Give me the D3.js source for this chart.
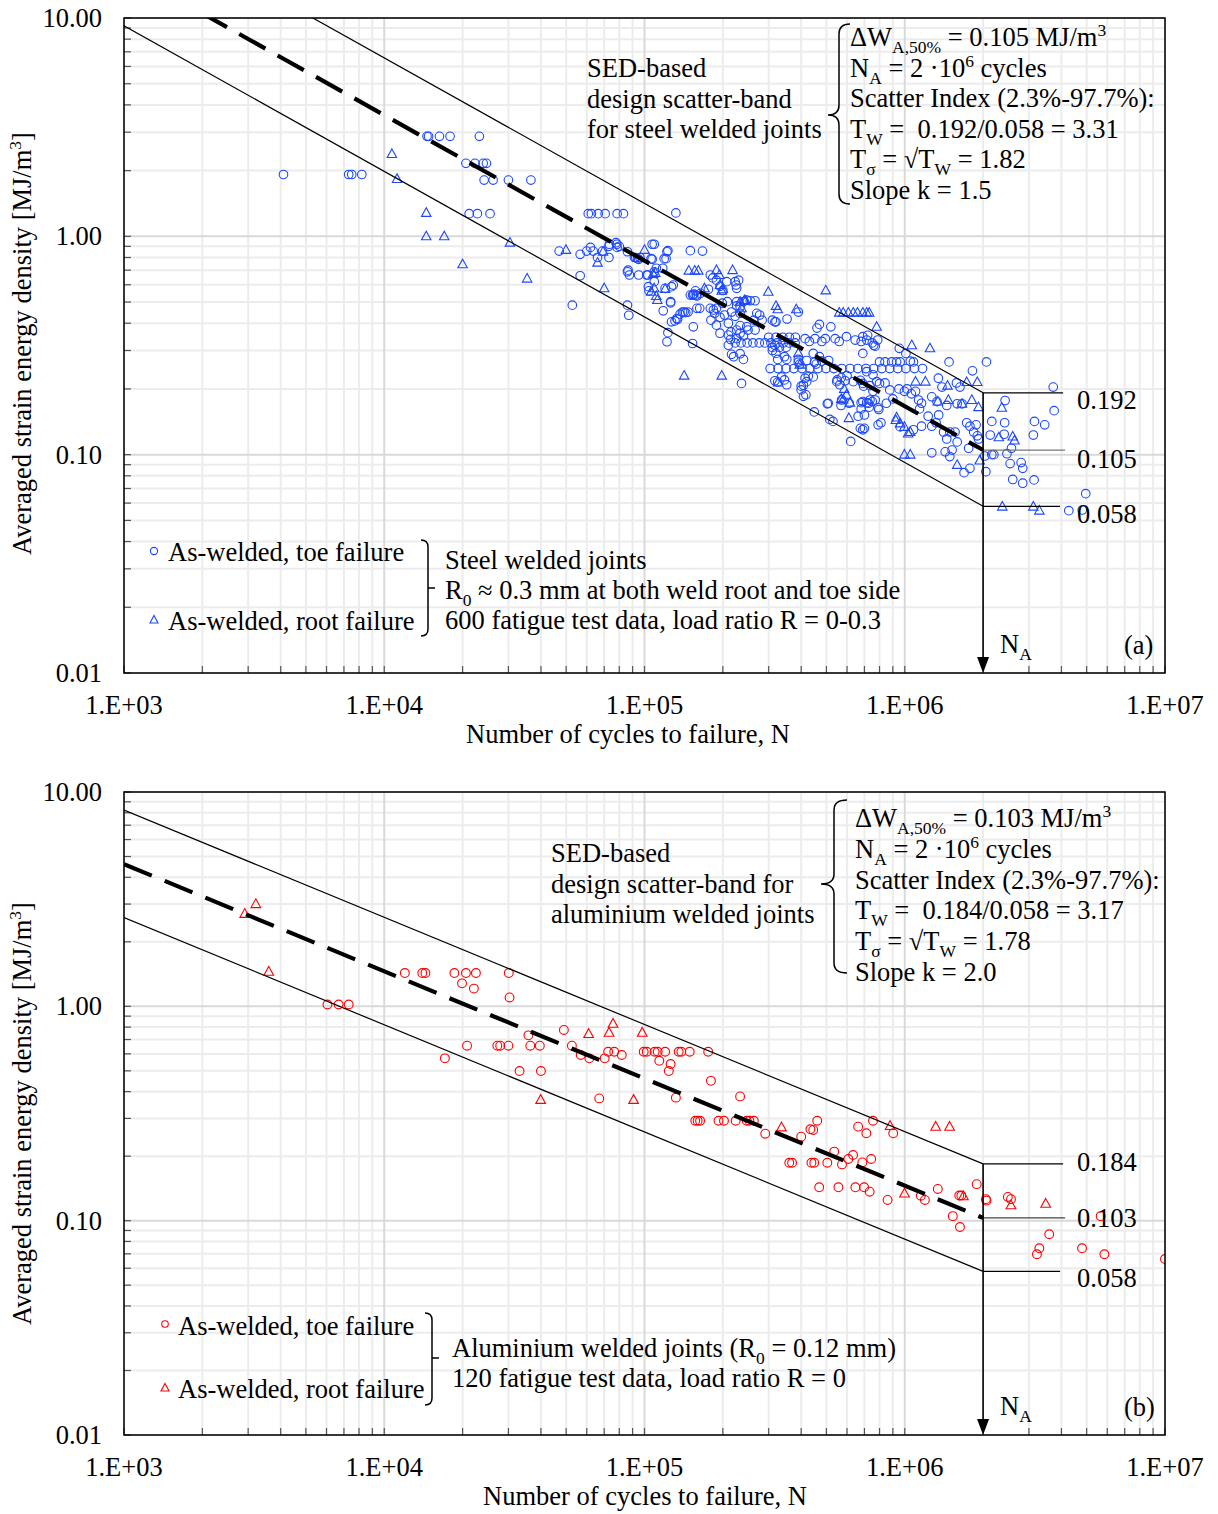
<!DOCTYPE html>
<html><head><meta charset="utf-8">
<script src="https://d3js.org/d3.v7.min.js"></script>
<style>
body{margin:0;background:#fff}
svg{display:block}
text{font-family:"Liberation Serif","Times New Roman",serif;fill:#000;white-space:pre}
</style>
</head><body>
<svg id="c" width="1218" height="1514"></svg>
<script>
// ---------------- DATA ----------------
const xTickLabels = ["1.E+03","1.E+04","1.E+05","1.E+06","1.E+07"];
const xTickValues = [1e3,1e4,1e5,1e6,1e7];
const yTickLabels = ["0.01","0.10","1.00","10.00"];
const yTickValues = [0.01,0.1,1,10];
const NA = 2e6;
// scatter band: [lower 97.7%, median 50%, upper 2.3%] at NA, and slope k
const steelBand = [0.058, 0.105, 0.192];
const steelK = 1.5;
const aluBand = [0.058, 0.103, 0.184];
const aluK = 2.0;

// Steel, as-welded toe failure [N, W]
const steelToe = [
[4.1e3,1.92],[7.3e3,1.92],[7.5e3,1.92],[8.2e3,1.92],
[1.46e4,2.87],[1.48e4,2.87],[1.63e4,2.87],[1.79e4,2.87],[2.32e4,2.87],
[2.06e4,2.16],[2.23e4,2.16],[2.4e4,2.16],[2.47e4,2.16],
[2.42e4,1.81],[2.62e4,1.81],[3.0e4,1.81],[3.66e4,1.81],
[2.12e4,1.27],[2.28e4,1.27],[2.55e4,1.27],
[6.08e4,1.27],[6.25e4,1.27],[6.64e4,1.27],[7.06e4,1.27],[7.85e4,1.27],[8.3e4,1.27],
[1.32e5,1.28],
[5.28e4,0.484],[5.66e4,0.66],[4.7e4,0.856],[5.66e4,0.827],
[6.0e4,0.856],[6.2e4,0.89],[6.35e4,0.856],[6.9e4,0.856],[7.3e4,0.90],[7.3e4,0.80],[7.77e4,0.935],[7.85e4,0.89],
[6.6e4,0.80],[8.6e4,0.688],[8.75e4,0.665],[9.5e4,0.665],[1.03e5,0.665],
[8.6e4,0.484],[8.7e4,0.435],
[9.25e4,0.80],[9.5e4,0.785],[1.07e5,0.785],[1.07e5,0.92],[1.09e5,0.92],
[1.035e5,0.588],[1.04e5,0.563],
[7.33e4,0.92],[7.83e4,0.92],[8.0e4,0.90],[8.6e4,0.85],[9.15e4,0.80],[9.4e4,0.79],[9.6e4,0.80],
[1.22e5,0.85],[1.21e5,0.79],[1.5e5,0.86],
[8.65e4,0.70],[1.09e5,0.688],[1.11e5,0.714],[1.175e5,0.714],[1.09e5,0.62],
[1.27e5,0.588],[1.29e5,0.598],[1.26e5,0.496],
[1.57e5,0.563],[1.55e5,0.544],[1.58e5,0.538],[1.5e5,0.538],[1.53e5,0.538],
[1.18e5,0.456],[1.42e5,0.45],[1.44e5,0.447],[1.4e5,0.45],[1.34e5,0.417],[1.31e5,0.41],[1.27e5,0.406],[1.59e5,0.468],
[1.23e5,0.362],[1.22e5,0.329],[1.53e5,0.323],
[1.23e5,0.86],[1.67e5,0.856],[1.06e5,0.79],[1.19e5,0.79],
[1.79e5,0.665],[1.83e5,0.645],[1.2e5,0.578],[1.02e5,0.665],
[1.26e5,0.502],[1.54e5,0.385],[2.36e5,0.212],
[1.95e5,0.59],[2.0e5,0.565],[1.76e5,0.572],[1.54e5,0.54],[1.59e5,0.533],[1.64e5,0.548],
[1.63e5,0.468],[1.79e5,0.468],[1.84e5,0.46],[1.89e5,0.468],[1.99e5,0.494],[2.08e5,0.502],[2.26e5,0.502],[2.33e5,0.476],[2.4e5,0.502],[2.47e5,0.51],[2.55e5,0.507],[2.66e5,0.507],
[3.9e5,0.45],[3.17e5,0.406],[3.53e5,0.418],[4.7e5,0.395],[4.6e5,0.38],[5.2e5,0.385],
[5.97e5,0.347],[6.45e5,0.335],[6.9e5,0.347],[7.2e5,0.352],[7.87e5,0.335],
[2.23e5,0.325],[2.35e5,0.325],[2.48e5,0.325],[2.61e5,0.325],[2.76e5,0.325],[2.9e5,0.325],[3.06e5,0.325],[3.23e5,0.325],[3.41e5,0.325],[3.59e5,0.325],[3.79e5,0.325],
[3.0e5,0.345],[3.2e5,0.345],[3.4e5,0.345],[3.6e5,0.345],[3.8e5,0.345],[3.1e5,0.31],[3.3e5,0.31],[3.5e5,0.31],
[4.14e5,0.34],[4.52e5,0.34],[4.95e5,0.34],[5.4e5,0.34],[4.3e5,0.33],[4.8e5,0.33],[5.6e5,0.33],
[3.04e5,0.248],[3.26e5,0.248],[3.5e5,0.248],[3.75e5,0.248],[4.03e5,0.248],[4.32e5,0.248],[4.64e5,0.248],[4.98e5,0.248],[5.34e5,0.248],[5.73e5,0.248],
[6.16e5,0.248],[6.6e5,0.248],[7.09e5,0.248],[7.6e5,0.248],[8.16e5,0.248],[8.76e5,0.248],[9.4e5,0.248],[1.01e6,0.248],[1.09e6,0.248],[1.17e6,0.248],
[2.1e5,0.317],[2.2e5,0.281],[2.33e5,0.29],[2.16e5,0.288],[2.4e5,0.273],
[3.17e5,0.317],[3.2e5,0.291],[3.1e5,0.30],[3.25e5,0.273],
[3.45e5,0.281],[3.52e5,0.273],[3.9e5,0.273],[3.95e5,0.26],
[4.45e5,0.291],[4.7e5,0.281],[4.57e5,0.26],
[1.86e5,0.444],[1.95e5,0.426],[2.03e5,0.436],[2.16e5,0.45],[2.23e5,0.43],[2.33e5,0.444],
[2.26e5,0.372],[2.33e5,0.36],[2.1e5,0.353],[2.14e5,0.337],[2.26e5,0.34],
[1.89e5,0.392],[1.8e5,0.413],[1.95e5,0.36],
[2.7e5,0.444],[2.77e5,0.436],[2.63e5,0.413],[2.83e5,0.413],
[2.47e5,0.385],[2.5e5,0.372],[2.66e5,0.372],[3.1e5,0.413],[3.2e5,0.406],
[1.89e5,0.63],[2.07e5,0.62],[2.23e5,0.62],[2.3e5,0.63],[2.26e5,0.578],[2.25e5,0.598],
[1.37e5,0.44],[1.33e5,0.42],[1.47e5,0.45],[2.26e5,0.48],[2.1e5,0.40],[2.33e5,0.39],[2.15e5,0.365],[2.4e5,0.35],
[3.45e5,0.22],[3.52e5,0.209],[4.14e5,0.224],[4.08e5,0.208],[4.0e5,0.198],[4.17e5,0.188],[4.08e5,0.185],[4.26e5,0.229],
[5.04e5,0.171],[4.49e5,0.157],[5.15e5,0.145],[5.3e5,0.142],[5.69e5,0.168],[6.62e5,0.15],[6.9e5,0.13],[6.2e5,0.115],
[6.8e5,0.173],[7.14e5,0.173],[7.5e5,0.175],[7.95e5,0.161],[8.1e5,0.14],[7.9e5,0.137],[8.4e5,0.213],
[5.5e5,0.22],[5.7e5,0.225],[5.9e5,0.218],[6.0e5,0.23],
[3.17e5,0.218],[3.25e5,0.215],[3.36e5,0.227],[4.0e5,0.206],[4.2e5,0.216],[4.45e5,0.227],[5.08e5,0.172],
[5.63e5,0.209],[5.48e5,0.216],[5.72e5,0.178],[6.12e5,0.172],[6.34e5,0.216],[6.75e5,0.219],[6.95e5,0.206],[7.35e5,0.178],[7.55e5,0.195],[7.3e5,0.165],
[3.9e5,0.265],[4.2e5,0.27],[4.5e5,0.265],[4.8e5,0.268],[5.1e5,0.27],
[6.8e5,0.33],[7.6e5,0.317],[6.9e5,0.291],[9.53e5,0.307],[1.01e6,0.291],[1.05e6,0.268],[1.08e6,0.266],[1.48e6,0.266],[2.06e6,0.266],[1.82e6,0.242],
[1.346e6,0.224],[1.39e6,0.204],[1.58e6,0.213],[1.63e6,0.204],
[1.27e6,0.184],[1.33e6,0.175],[1.45e6,0.168],[1.59e6,0.171],[1.66e6,0.171],
[9.6e5,0.134],[1.08e6,0.13],
[1.16e6,0.135],[1.27e6,0.135],[1.35e6,0.152],[1.32e6,0.14],[1.41e6,0.127],[1.45e6,0.118],[1.49e6,0.127],[1.56e6,0.127],[1.59e6,0.1144],
[1.73e6,0.14],[1.78e6,0.135],[1.88e6,0.137],[1.84e6,0.127],[1.9e6,0.122],[1.76e6,0.107],[1.92e6,0.118],
[1.27e6,0.102],[1.43e6,0.103],[1.52e6,0.105],[1.49e6,0.098],[1.69e6,0.0827],[1.78e6,0.0866],
[2.03e6,0.0986],[2.05e6,0.0836],[2.16e6,0.1],[2.2e6,0.1],
[3.72e6,0.204],[3.75e6,0.159],[2.43e6,0.177],[2.16e6,0.142],[2.42e6,0.14],[3.15e6,0.142],[3.45e6,0.137],
[2.13e6,0.123],[2.41e6,0.124],[3.12e6,0.123],[2.57e6,0.107],[2.47e6,0.101],
[2.54e6,0.091],[2.8e6,0.092],[2.84e6,0.0866],[2.6e6,0.077],[2.84e6,0.074],[3.14e6,0.0766],
[4.27e6,0.0554],[4.81e6,0.0558],[4.96e6,0.0663],
[7.14e5,0.335],[7.5e5,0.325],[7.7e5,0.314],
[8.0e5,0.266],[8.4e5,0.266],[8.9e5,0.266],[9.3e5,0.266],[9.6e5,0.266],
[7.14e5,0.24],[7.55e5,0.232],[7.8e5,0.216],[7.35e5,0.207],[6.9e5,0.212],[8.0e5,0.212],
[8.76e5,0.198],[9.5e5,0.2],[9.97e5,0.195],[1.02e6,0.2],[1.06e6,0.19],[1.1e6,0.195],
[6.9e5,0.175],[7.25e5,0.172],[7.7e5,0.178],[7.9e5,0.164],[8.5e5,0.172],[9.0e5,0.18],
[1.14e6,0.162],[1.23e6,0.15],[1.16e6,0.172],[1.13e6,0.178],
[6.8e5,0.162],[7.0e5,0.152],[6.75e5,0.132],[7.0e5,0.132]
];
// Steel, as-welded root failure [N, W]
const steelRoot = [
[1.07e4,2.38],[1.12e4,1.83],[1.45e4,1.28],[1.45e4,1.0],[1.7e4,1.0],[2.0e4,0.744],[3.04e4,0.935],[3.54e4,0.64],
[4.99e4,0.866],[6.6e4,0.757],[7.0e4,0.578],[1.0e5,0.866],
[1.06e5,0.557],[1.09e5,0.578],[1.11e5,0.533],[1.12e5,0.511],[1.08e5,0.672],[1.10e5,0.68],[6.93e4,0.85],
[1.48e5,0.696],[1.56e5,0.696],[1.61e5,0.696],[1.89e5,0.70],[2.18e5,0.70],[1.94e5,0.665],[1.2e5,0.574],
[1.42e5,0.23],[1.98e5,0.23],
[1.7e5,0.578],[1.95e5,0.598],[1.98e5,0.563],[2.0e5,0.572],[2.33e5,0.502],[2.36e5,0.468],[2.45e5,0.507],[2.42e5,0.51],
[2.99e5,0.557],[4.97e5,0.565],[3.2e5,0.48],[3.25e5,0.463],[3.83e5,0.463],
[5.6e5,0.447],[5.8e5,0.447],[6.07e5,0.447],[6.34e5,0.447],[6.58e5,0.447],[6.9e5,0.447],[7.14e5,0.447],[7.3e5,0.447],
[7.8e5,0.385],[3.9e5,0.291],[3.95e5,0.258],[3.26e5,0.214],
[5.8e5,0.179],[5.97e5,0.188],[6.16e5,0.173],[6.1e5,0.147],[5.7e5,0.18],[5.85e5,0.2],
[1.064e6,0.317],[1.25e6,0.307],[1.73e6,0.215],[1.9e6,0.215],[1.46e6,0.207],[1.1e6,0.216],[1.2e6,0.216],
[1.34e6,0.175],[1.47e6,0.178],[1.66e6,0.171],[1.81e6,0.178],[1.92e6,0.165],
[9.24e5,0.144],[9.97e5,0.134],[1.03e6,0.125],[9.97e5,0.1],[1.05e6,0.1],[1.59e6,0.0897],[1.94e6,0.094],
[9.3e5,0.148],[9.6e5,0.139],[1.05e6,0.127],
[2.36e6,0.164],[2.3e6,0.12],[2.6e6,0.121],[2.64e6,0.116],
[2.37e6,0.0578],[3.12e6,0.0578],[3.29e6,0.0554]
];
// Aluminium, as-welded toe failure [N, W]
const aluToe = [
[6.05e3,1.02],[6.68e3,1.02],[7.3e3,1.02],
[1.2e4,1.43],[1.4e4,1.43],[1.44e4,1.43],[1.86e4,1.43],[2.06e4,1.43],[2.25e4,1.43],[3.01e4,1.43],
[1.99e4,1.28],[2.21e4,1.21],[3.03e4,1.10],
[1.71e4,0.572],[2.08e4,0.655],[2.72e4,0.655],[2.79e4,0.655],[3.0e4,0.655],
[3.31e4,0.499],[4.0e4,0.499],[3.58e4,0.732],[3.64e4,0.655],[3.96e4,0.655],
[4.9e4,0.776],[5.26e4,0.655],[5.69e4,0.593],[6.14e4,0.572],[6.7e4,0.372],[7.03e4,0.572],[7.25e4,0.614],[7.65e4,0.614],[8.18e4,0.593],
[9.93e4,0.614],[1.02e5,0.614],[1.094e5,0.614],[1.124e5,0.614],[1.2e5,0.614],[1.353e5,0.614],[1.385e5,0.614],[1.492e5,0.614],[1.757e5,0.614],
[1.14e5,0.557],[1.26e5,0.538],[1.24e5,0.499],[1.8e5,0.449],[1.32e5,0.375],[2.33e5,0.38],
[1.567e5,0.2926],[1.6e5,0.2926],[1.635e5,0.2926],[1.925e5,0.2926],[2.02e5,0.2926],[2.24e5,0.2926],[2.47e5,0.2926],[2.53e5,0.2926],[2.63e5,0.2926],
[2.91e5,0.2546],[4.0e5,0.2465],[4.34e5,0.267],[4.45e5,0.265],[4.61e5,0.2926],
[3.6e5,0.1863],[3.69e5,0.1863],[4.38e5,0.1863],[4.49e5,0.1863],[5.04e5,0.1863],
[5.36e5,0.21],[5.74e5,0.183],[6.07e5,0.194],[6.33e5,0.2025],[6.87e5,0.187],[7.43e5,0.194],
[6.62e5,0.2745],[7.12e5,0.2556],[7.55e5,0.2926],[9.03e5,0.2556],
[4.69e5,0.1431],[5.56e5,0.1431],[6.46e5,0.1431],[6.98e5,0.1431],[7.33e5,0.1365],
[8.59e5,0.1249],[1.153e6,0.1307],[1.195e6,0.1249],[1.34e6,0.1406],
[1.62e6,0.131],[1.65e6,0.131],[1.89e6,0.148],[2.05e6,0.126],[2.06e6,0.124],
[1.53e6,0.105],[1.63e6,0.0934],[2.49e6,0.129],[2.56e6,0.126],
[5.66e6,0.105],[3.59e6,0.0864],[3.29e6,0.0743],[3.22e6,0.0697],[4.8e6,0.0743],[5.85e6,0.0697],[1.0e7,0.0662]
];
// Aluminium, as-welded root failure [N, W]
const aluRoot = [
[3.21e3,3.0],[2.91e3,2.7],[3.6e3,1.45],
[3.99e4,0.366],[6.1e4,0.743],[7.31e4,0.753],[7.57e4,0.83],[9.08e4,0.366],[9.8e4,0.753],
[3.36e5,0.2725],[8.78e5,0.2767],[1.315e6,0.2745],[1.487e6,0.2745],
[9.98e5,0.134],[1.68e6,0.130],[2.56e6,0.118],[3.48e6,0.12]
];

// ---------------- DRAW ----------------
const svg = d3.select("#c");
const FS = 26.5;
const L = 124, R = 1165;

function rich(g, x, y, parts, size, anchor) {
  const t = g.append("text").attr("x", x).attr("y", y).attr("font-size", size);
  if (anchor) t.attr("text-anchor", anchor);
  let shift = 0;
  parts.forEach(p => {
    const s = typeof p === "string" ? p : p[0];
    const kind = typeof p === "string" ? "n" : p[1];
    const target = kind === "sub" ? size * 0.26 : kind === "sup" ? -size * 0.36 : 0;
    const ts = t.append("tspan").text(s).attr("dy", target - shift);
    if (kind !== "n") ts.attr("font-size", size * 0.66);
    shift = target;
  });
  return t;
}

function triPath(cx, cy, w, h) {
  return `M${cx},${cy - h * 0.6}L${cx + w / 2},${cy + h * 0.4}L${cx - w / 2},${cy + h * 0.4}Z`;
}

function drawPanel(o) {
  const g = svg.append("g");
  const x = d3.scaleLog().domain([1e3, 1e7]).range([L, R]);
  const y = d3.scaleLog().domain([0.01, 10]).range([o.bottom, o.top]);

  // grid
  const xs = [], ys = [];
  for (let e = 3; e < 7; e++) for (let k = 1; k <= 9; k++) xs.push({v: k * Math.pow(10, e), major: k === 1});
  xs.push({v: 1e7, major: true});
  for (let e = -2; e < 1; e++) for (let k = 1; k <= 9; k++) ys.push({v: k * Math.pow(10, e), major: k === 1});
  ys.push({v: 10, major: true});
  const grid = g.append("g");
  grid.selectAll("line.vx").data(xs.filter(d => !d.major)).join("line")
    .attr("x1", d => x(d.v)).attr("x2", d => x(d.v)).attr("y1", o.top).attr("y2", o.bottom)
    .attr("stroke", "#ececec").attr("stroke-width", 2);
  grid.selectAll("line.hy").data(ys.filter(d => !d.major)).join("line")
    .attr("y1", d => y(d.v)).attr("y2", d => y(d.v)).attr("x1", L).attr("x2", R)
    .attr("stroke", "#ececec").attr("stroke-width", 2);
  grid.selectAll("line.mx").data(xs.filter(d => d.major)).join("line")
    .attr("x1", d => x(d.v)).attr("x2", d => x(d.v)).attr("y1", o.top).attr("y2", o.bottom)
    .attr("stroke", "#d9d9d9").attr("stroke-width", 2);
  grid.selectAll("line.my").data(ys.filter(d => d.major)).join("line")
    .attr("y1", d => y(d.v)).attr("y2", d => y(d.v)).attr("x1", L).attr("x2", R)
    .attr("stroke", "#d9d9d9").attr("stroke-width", 2);

  // inner ticks
  g.append("g").selectAll("line").data(ys).join("line")
    .attr("x1", L).attr("x2", L + 7).attr("y1", d => y(d.v)).attr("y2", d => y(d.v))
    .attr("stroke", "#555").attr("stroke-width", 1.2);
  g.append("g").selectAll("line").data(xs).join("line")
    .attr("y1", o.bottom).attr("y2", o.bottom - 7).attr("x1", d => x(d.v)).attr("x2", d => x(d.v))
    .attr("stroke", "#555").attr("stroke-width", 1.2);

  // clip
  const cid = "clip" + o.id;
  svg.append("clipPath").attr("id", cid).append("rect")
    .attr("x", L).attr("y", o.top).attr("width", R - L).attr("height", o.bottom - o.top);
  const inner = g.append("g").attr("clip-path", `url(#${cid})`);

  const curve = (wA) => [[1e3, wA * Math.pow(1e3 / NA, -1 / o.k)], [NA, wA]];
  const line = d3.line().x(d => x(d[0])).y(d => y(d[1]));

  // scatter points
  inner.append("g").selectAll("circle").data(o.toe).join("circle")
    .attr("cx", d => x(d[0])).attr("cy", d => y(d[1])).attr("r", o.r)
    .attr("fill", "none").attr("stroke", o.color).attr("stroke-width", 1.1);
  inner.append("g").selectAll("path").data(o.root).join("path")
    .attr("d", d => triPath(x(d[0]), y(d[1]), o.r * 2.2, o.r * 2))
    .attr("fill", "none").attr("stroke", o.color).attr("stroke-width", 1.1);

  // band lines
  inner.append("path").attr("d", line(curve(o.band[0]))).attr("fill", "none").attr("stroke", "#000").attr("stroke-width", 1.2);
  inner.append("path").attr("d", line(curve(o.band[2]))).attr("fill", "none").attr("stroke", "#000").attr("stroke-width", 1.2);
  inner.append("path").attr("d", line(curve(o.band[1]))).attr("fill", "none").attr("stroke", "#000")
    .attr("stroke-width", 4.2).attr("stroke-dasharray", "30,14");

  // right segments at NA
  const xNA = x(NA);
  const segLen = [77, 82, 80];
  const segCol = ["#000", o.midColor, "#000"];
  [2, 1, 0].forEach(i => {
    g.append("line").attr("x1", xNA).attr("x2", xNA + segLen[i]).attr("y1", y(o.band[i])).attr("y2", y(o.band[i]))
      .attr("stroke", segCol[i]).attr("stroke-width", 1.3);
    g.append("text").attr("x", xNA + 94).attr("y", y(o.band[i]) + o.labOff[i]).attr("font-size", FS)
      .text(o.band[i].toFixed(3));
  });
  // arrow
  g.append("line").attr("x1", xNA).attr("x2", xNA).attr("y1", y(o.band[2])).attr("y2", o.bottom - 14)
    .attr("stroke", "#000").attr("stroke-width", 1.6);
  g.append("path").attr("d", `M${xNA - 6},${o.bottom - 16}L${xNA + 6},${o.bottom - 16}L${xNA},${o.bottom}Z`).attr("fill", "#000");
  rich(g, xNA + 17, o.bottom - 20, ["N", ["A", "sub"]], FS);
  g.append("text").attr("x", 1124).attr("y", o.bottom - 19).attr("font-size", FS).text(o.tag);

  // frame
  g.append("rect").attr("x", L).attr("y", o.top).attr("width", R - L).attr("height", o.bottom - o.top)
    .attr("fill", "none").attr("stroke", "#000").attr("stroke-width", 1.5);

  // axis labels
  g.append("g").selectAll("text").data(yTickValues).join("text")
    .attr("x", 102).attr("y", d => y(d) + 9).attr("text-anchor", "end").attr("font-size", FS)
    .text((d, i) => yTickLabels[i]);
  g.append("g").selectAll("text").data(xTickValues).join("text")
    .attr("x", d => x(d)).attr("y", o.bottom + 41).attr("text-anchor", "middle").attr("font-size", FS)
    .text((d, i) => xTickLabels[i]);
  g.append("text").attr("x", o.xTitleX).attr("y", o.bottom + 70).attr("text-anchor", "middle").attr("font-size", FS)
    .text("Number of cycles to failure, N");
  const yt = rich(g, 0, 0, ["Averaged strain energy density [MJ/m", ["3", "sup"], "]"], FS, "middle");
  yt.attr("transform", `translate(31,${(o.top + o.bottom) / 2 + o.yTitleOff}) rotate(-90)`);

  return {g, x, y};
}

// ---------- Panel (a) ----------
const A = drawPanel({
  id: "a", top: 18, bottom: 673, toe: steelToe, root: steelRoot, band: steelBand, k: steelK,
  color: "#1a47ff", r: 4.3, midColor: "#777", labOff: [17, 18, 16], tag: "(a)", xTitleX: 628, yTitleOff: -2
});
{
  const g = A.g;
  const lx = 850, ly = [46, 77, 107, 138, 168, 199];
  rich(g, lx, ly[0], ["ΔW", ["A,50%", "sub"], " = 0.105 MJ/m", ["3", "sup"]], FS);
  rich(g, lx, ly[1], ["N", ["A", "sub"], " = 2 ·10", ["6", "sup"], " cycles"], FS);
  rich(g, lx, ly[2], ["Scatter Index (2.3%-97.7%):"], FS);
  rich(g, lx, ly[3], ["T", ["W", "sub"], " =  0.192/0.058 = 3.31"], FS);
  rich(g, lx, ly[4], ["T", ["σ", "sub"], " = √T", ["W", "sub"], " = 1.82"], FS);
  rich(g, lx, ly[5], ["Slope k = 1.5"], FS);
  g.append("path").attr("d", "M850,24 Q839,24 839,34 V105 Q839,115 828,115 Q839,115 839,125 V194 Q839,204 850,204")
    .attr("fill", "none").attr("stroke", "#000").attr("stroke-width", 1.5);
  ["SED-based", "design scatter-band", "for steel welded joints"].forEach((s, i) =>
    g.append("text").attr("x", 587).attr("y", 77 + i * 30.5).attr("font-size", FS).text(s));
  // legend
  g.append("circle").attr("cx", 154).attr("cy", 551).attr("r", 3.6).attr("fill", "none").attr("stroke", "#1a47ff").attr("stroke-width", 1.1);
  g.append("path").attr("d", triPath(154, 620, 8, 7.5)).attr("fill", "none").attr("stroke", "#1a47ff").attr("stroke-width", 1.1);
  g.append("text").attr("x", 168).attr("y", 561).attr("font-size", FS).text("As-welded, toe failure");
  g.append("text").attr("x", 168).attr("y", 630).attr("font-size", FS).text("As-welded, root failure");
  g.append("path").attr("d", "M421,540 Q428,540 428,547 V629 Q428,636 421,636 M428,588 H435")
    .attr("fill", "none").attr("stroke", "#000").attr("stroke-width", 1.5);
  g.append("text").attr("x", 445).attr("y", 569).attr("font-size", FS).text("Steel welded joints");
  rich(g, 445, 599, ["R", ["0", "sub"], " ≈ 0.3 mm at both weld root and toe side"], FS);
  g.append("text").attr("x", 445).attr("y", 629).attr("font-size", FS).text("600 fatigue test data, load ratio R = 0-0.3");
}

// ---------- Panel (b) ----------
const B = drawPanel({
  id: "b", top: 792, bottom: 1435, toe: aluToe, root: aluRoot, band: aluBand, k: aluK,
  color: "#ff0000", r: 4.4, midColor: "#444", labOff: [16, 9, 7], tag: "(b)", xTitleX: 645, yTitleOff: 0
});
{
  const g = B.g;
  const lx = 855, ly = [827, 858, 889, 919, 950, 981];
  rich(g, lx, ly[0], ["ΔW", ["A,50%", "sub"], " = 0.103 MJ/m", ["3", "sup"]], FS);
  rich(g, lx, ly[1], ["N", ["A", "sub"], " = 2 ·10", ["6", "sup"], " cycles"], FS);
  rich(g, lx, ly[2], ["Scatter Index (2.3%-97.7%):"], FS);
  rich(g, lx, ly[3], ["T", ["W", "sub"], " =  0.184/0.058 = 3.17"], FS);
  rich(g, lx, ly[4], ["T", ["σ", "sub"], " = √T", ["W", "sub"], " = 1.78"], FS);
  rich(g, lx, ly[5], ["Slope k = 2.0"], FS);
  g.append("path").attr("d", "M847,800 Q834,800 834,810 V874 Q834,884 821,884 Q834,884 834,894 V963 Q834,973 847,973")
    .attr("fill", "none").attr("stroke", "#000").attr("stroke-width", 1.5);
  ["SED-based", "design scatter-band for", "aluminium welded joints"].forEach((s, i) =>
    g.append("text").attr("x", 551).attr("y", 862 + i * 30.5).attr("font-size", FS).text(s));
  // legend
  g.append("circle").attr("cx", 165).attr("cy", 1324).attr("r", 3.3).attr("fill", "none").attr("stroke", "#ff0000").attr("stroke-width", 1.1);
  g.append("path").attr("d", triPath(165, 1388, 8, 7.5)).attr("fill", "none").attr("stroke", "#ff0000").attr("stroke-width", 1.1);
  g.append("text").attr("x", 178).attr("y", 1335).attr("font-size", FS).text("As-welded, toe failure");
  g.append("text").attr("x", 178).attr("y", 1398).attr("font-size", FS).text("As-welded, root failure");
  g.append("path").attr("d", "M425,1313 Q432,1313 432,1320 V1398 Q432,1405 425,1405 M432,1358 H439")
    .attr("fill", "none").attr("stroke", "#000").attr("stroke-width", 1.5);
  rich(g, 452, 1357, ["Aluminium welded joints (R", ["0", "sub"], " = 0.12 mm)"], FS);
  g.append("text").attr("x", 452).attr("y", 1387).attr("font-size", FS).text("120 fatigue test data, load ratio R = 0");
}
</script>
</body></html>
